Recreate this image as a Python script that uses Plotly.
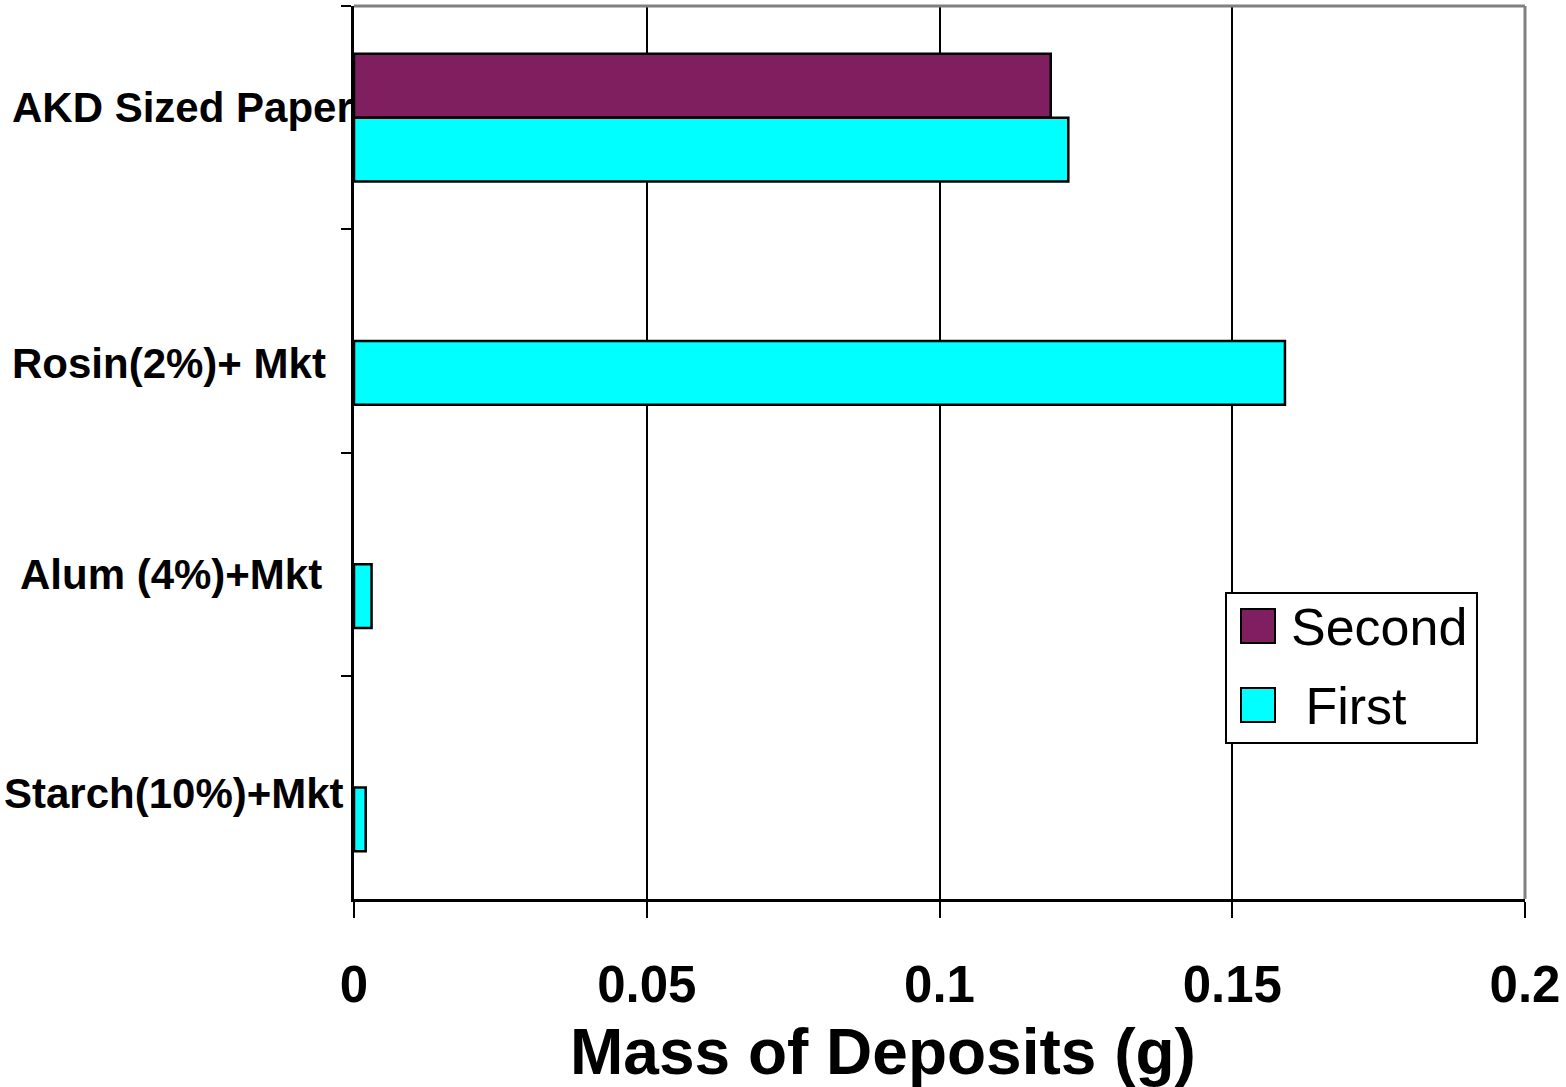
import plotly.graph_objects as go

# Deposit mass per furnish, two passes
categories = ["AKD Sized Paper", "Rosin(2%)+ Mkt", "Alum (4%)+Mkt", "Starch(10%)+Mkt"]
second_pass = [0.119, None, None, None]
first_pass = [0.122, 0.159, 0.003, 0.002]
x_ticks = [0, 0.05, 0.1, 0.15, 0.2]
x_tick_text = ["0", "0.05", "0.1", "0.15", "0.2"]
series_names = ["Second", " First"]
series_colors = ["#7F1F5F", "#00FFFF"]

W, H = 1566, 1087
L, R, T, B = 354, 41, 6, 188
plot_w = W - L - R
plot_h = H - T - B

FONT = "Arial, 'Liberation Sans', sans-serif"

fig = go.Figure()
for name, vals, color in zip(series_names, [second_pass, first_pass], series_colors):
    fig.add_trace(go.Bar(
        y=categories, x=vals, name=name.strip(), orientation="h",
        marker=dict(color=color, line=dict(color="black", width=2.5)),
        showlegend=False,
    ))

fig.update_layout(
    width=W, height=H,
    margin=dict(l=L, r=R, t=T, b=B),
    paper_bgcolor="white", plot_bgcolor="white",
    barmode="group", bargap=0.427, bargroupgap=0,
    font=dict(family=FONT, color="black"),
)

fig.update_xaxes(
    range=[0, 0.2], tickmode="array", tickvals=x_ticks, ticktext=x_tick_text,
    showgrid=True, gridcolor="black", gridwidth=2,
    showline=True, linecolor="black", linewidth=3,
    ticks="outside", ticklen=16, tickwidth=2, tickcolor="black",
    tickfont=dict(family=FONT, size=51, color="black", weight="bold"),
    ticklabelstandoff=23,
    zeroline=False,
)
fig.update_yaxes(
    type="category", categoryorder="array", categoryarray=categories,
    autorange="reversed", tickson="boundaries",
    showticklabels=False, showgrid=False,
    showline=True, linecolor="black", linewidth=3,
    ticks="outside", ticklen=10, tickwidth=2, tickcolor="black",
    zeroline=False,
)

# Gray frame on the top and right sides of the plot area
fig.add_shape(type="line", xref="paper", yref="paper", x0=0, x1=1, y0=1, y1=1,
              line=dict(color="#808080", width=3), layer="above")
fig.add_shape(type="line", xref="paper", yref="paper", x0=1, x1=1, y0=0, y1=1,
              line=dict(color="#808080", width=3), layer="above")

# Category labels, placed individually to the left of the axis
label_left_px = [10, 10, 18, 2]
label_shift_px = [10, -23, -10, -6]
for cat, lx, dy in zip(categories, label_left_px, label_shift_px):
    fig.add_annotation(
        text=cat, xref="paper", yref="y", x=(lx - L) / plot_w, y=cat,
        xanchor="left", yanchor="middle", yshift=dy, showarrow=False,
        font=dict(family=FONT, size=42, color="black", weight="bold"),
    )

# Axis title
fig.add_annotation(
    text="Mass of Deposits (g)", xref="paper", yref="paper",
    x=(883 - L) / plot_w, y=-(1052 - (T + plot_h)) / plot_h,
    xanchor="center", yanchor="middle", showarrow=False,
    font=dict(family=FONT, size=64, color="black", weight="bold"),
)

# Legend box with swatches
def px_x(p):
    return (p - L) / plot_w

def px_y(p):
    return 1 - (p - T) / plot_h

fig.add_shape(type="rect", xref="paper", yref="paper",
              x0=px_x(1226), x1=px_x(1477), y0=px_y(743), y1=px_y(593),
              line=dict(color="black", width=2), fillcolor="white", layer="above")
row_tops = [609, 688]
for name, color, top in zip(series_names, series_colors, row_tops):
    fig.add_shape(type="rect", xref="paper", yref="paper",
                  x0=px_x(1241), x1=px_x(1275), y0=px_y(top + 34), y1=px_y(top),
                  line=dict(color="black", width=2), fillcolor=color, layer="above")
    fig.add_annotation(
        text=name.replace(" ", "&nbsp;"), xref="paper", yref="paper",
        x=px_x(1289), y=px_y(top + 18), xanchor="left", yanchor="middle",
        showarrow=False, font=dict(family=FONT, size=52, color="black"),
    )

fig.write_html("out.html")
